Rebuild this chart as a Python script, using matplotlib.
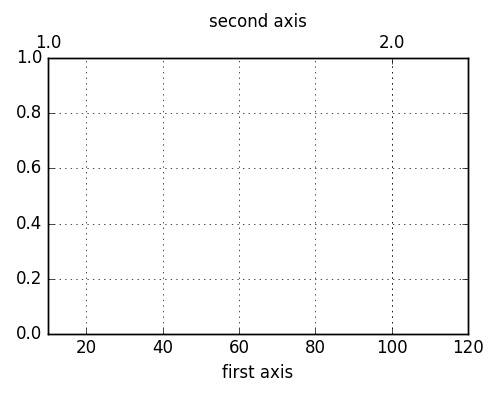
import matplotlib
matplotlib.use("Agg")
import matplotlib.pyplot as plt

plt.style.use("classic")

# axis ranges and tick values
x_limits = [10, 120]
y_limits = [0.0, 1.0]
top_ticks = [1.0, 2.0]
# the top axis is linear: 1.0 sits at x=10, 2.0 at x=100
top_at_10, top_at_100 = 1.0, 2.0

fig = plt.figure(figsize=(5, 3.97), dpi=100, facecolor="white")
ax = fig.add_axes([0.096, 0.159, 0.84, 0.695])
ax.set_xlim(x_limits)
ax.set_ylim(y_limits)
ax.set_xlabel("first axis")
ax.grid(True)

scale = (top_at_100 - top_at_10) / (100 - 10)
ax2 = ax.twiny()
ax2.set_xlim(top_at_10 + (x_limits[0] - 10) * scale,
             top_at_10 + (x_limits[1] - 10) * scale)
ax2.set_xticks(top_ticks)
ax2.set_xticklabels([f"{t:.1f}" for t in top_ticks])
ax2.set_xlabel("second axis")
ax2.grid(True)

fig.savefig("out.png", dpi=100, facecolor="white")
